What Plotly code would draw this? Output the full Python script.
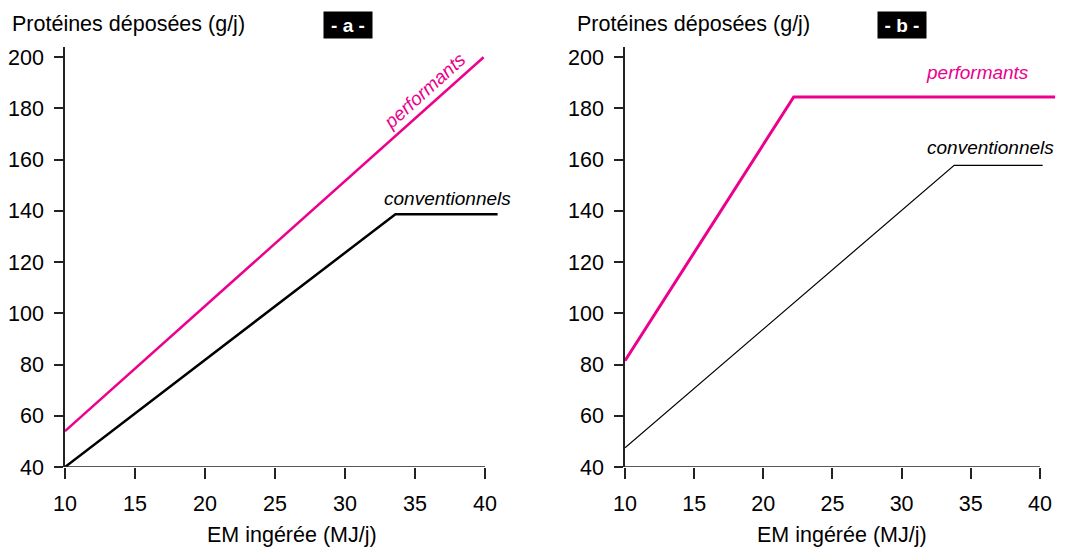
import plotly.graph_objects as go

# ---- data ----
x_ticks = [10, 15, 20, 25, 30, 35, 40]
y_ticks = [40, 60, 80, 100, 120, 140, 160, 180, 200]

a_perf_x = [10, 39.9]
a_perf_y = [54, 200]
a_conv_x = [10, 33.6, 40.9]
a_conv_y = [40, 138.7, 138.7]

b_perf_x = [10, 22.2, 41.1]
b_perf_y = [81.5, 184.5, 184.5]
b_conv_x = [10, 33.8, 40.2]
b_conv_y = [47.5, 157.8, 157.8]

PINK = "#EC008C"
FONT = "Liberation Sans, Arial, sans-serif"
W, H = 1090, 547
FS = 21.5

fig = go.Figure()
fig.add_trace(go.Scatter(x=a_perf_x, y=a_perf_y, mode="lines",
                         line=dict(color=PINK, width=2.5), xaxis="x", yaxis="y", showlegend=False))
fig.add_trace(go.Scatter(x=a_conv_x, y=a_conv_y, mode="lines",
                         line=dict(color="black", width=2.5), xaxis="x", yaxis="y", showlegend=False))
fig.add_trace(go.Scatter(x=b_perf_x, y=b_perf_y, mode="lines",
                         line=dict(color=PINK, width=3), xaxis="x2", yaxis="y2", showlegend=False))
fig.add_trace(go.Scatter(x=b_conv_x, y=b_conv_y, mode="lines",
                         line=dict(color="black", width=1.2), xaxis="x2", yaxis="y2", showlegend=False))

ydom = [(H - 467) / H, (H - 47) / H]
xa_dom = [65 / W, (65 + 31.2 * 14) / W]
xb_dom = [625 / W, (625 + 31.3 * 13.83) / W]

xcommon = dict(tickvals=x_ticks, ticks="outside", ticklen=11, tickwidth=1.5, tickcolor="#222",
               showline=False, showgrid=False, zeroline=False, automargin=False,
               tickfont=dict(family=FONT, size=FS, color="black"), ticklabelstandoff=6)
ycommon = dict(range=[40, 204], domain=ydom, tickvals=y_ticks, ticks="outside", ticklen=9,
               tickwidth=1.5, tickcolor="#222", showline=True, linewidth=1.5, linecolor="#222",
               showgrid=False, zeroline=False, automargin=False,
               tickfont=dict(family=FONT, size=FS, color="black"), ticklabelstandoff=6)

fig.update_layout(
    width=W, height=H, margin=dict(l=0, r=0, t=0, b=0, autoexpand=False),
    paper_bgcolor="white", plot_bgcolor="white",
    xaxis=dict(domain=xa_dom, range=[10, 41.2], anchor="y", **xcommon),
    yaxis=dict(anchor="x", **ycommon),
    xaxis2=dict(domain=xb_dom, range=[10, 41.3], anchor="y2", **xcommon),
    yaxis2=dict(anchor="x2", **ycommon),
)

# x-axis lines from 10 to 40 only
fig.add_shape(type="line", xref="x", yref="y", x0=10, x1=40, y0=40, y1=40,
              line=dict(color="#222", width=1.5))
fig.add_shape(type="line", xref="x2", yref="y2", x0=10, x1=40, y0=40, y1=40,
              line=dict(color="#222", width=1.5))

def ann(text, x, y, xref, yref, **kw):
    fig.add_annotation(text=text, x=x, y=y, xref=xref, yref=yref, showarrow=False, **kw)

# axis titles
for cx in (128, 693):
    ann("Protéines déposées (g/j)", cx / W, (H - 24) / H, "paper", "paper",
        font=dict(family=FONT, size=FS, color="black"), xanchor="center", yanchor="middle")
for cx in (292, 842):
    ann("EM ingérée (MJ/j)", cx / W, (H - 535) / H, "paper", "paper",
        font=dict(family=FONT, size=FS, color="black"), xanchor="center", yanchor="middle")

# panel labels
for txt, cx in (("- a -", 348), ("- b -", 902)):
    ann("<b>" + txt + "</b>", cx / W, (H - 25) / H, "paper", "paper",
        font=dict(family=FONT, size=19, color="white"), bgcolor="black",
        width=46, height=24, xanchor="center", yanchor="middle")

# series labels
ann("performants", 35.7, 187.1, "x", "y", textangle=-42,
    font=dict(family=FONT, size=19, color=PINK, style="italic"))
ann("conventionnels", 37.3, 145, "x", "y",
    font=dict(family=FONT, size=19, color="black", style="italic"))
ann("performants", 35.5, 194, "x2", "y2",
    font=dict(family=FONT, size=19, color=PINK, style="italic"))
ann("conventionnels", 36.4, 164.9, "x2", "y2",
    font=dict(family=FONT, size=19, color="black", style="italic"))

fig.write_html("out.html")
